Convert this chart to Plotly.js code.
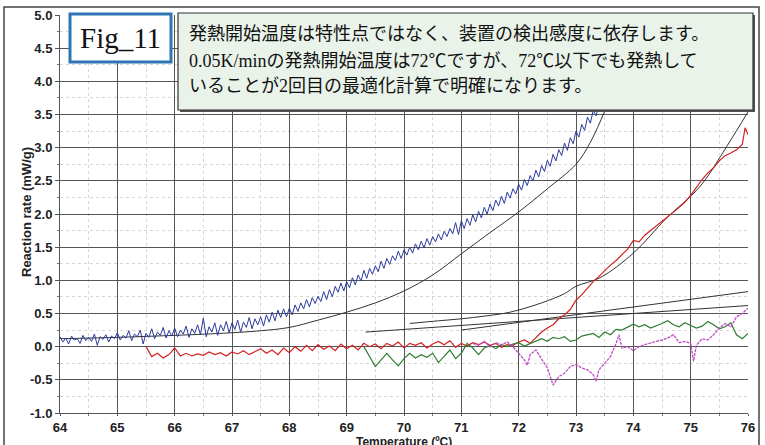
<!DOCTYPE html>
<html>
<head>
<meta charset="utf-8">
<script src="https://cdn.plot.ly/plotly-3.0.1.min.js"></script>
<style>html,body{margin:0;padding:0;background:#fff;}#chart{width:765px;height:445px;}</style>
</head>
<body>
<div id="chart"></div>
<script>
// ---- data ----
const blueT = [64.00,64.05,64.10,64.15,64.20,64.25,64.30,64.35,64.40,64.45,64.50,64.55,64.60,64.65,64.70,64.75,64.80,64.85,64.90,64.95,
65.00,65.05,65.10,65.15,65.20,65.25,65.30,65.35,65.40,65.45,65.50,65.55,65.60,65.65,65.70,65.75,65.80,65.85,65.90,65.95,
66.00,66.05,66.10,66.15,66.20,66.25,66.30,66.35,66.40,66.45,66.50,66.55,66.60,66.65,66.70,66.75,66.80,66.85,66.90,66.95,
67.00,67.05,67.10,67.15,67.20,67.25,67.30,67.35,67.40,67.45,67.50,67.55,67.60,67.65,67.70,67.75,67.80,67.85,67.90,67.95,
68.00,68.05,68.10,68.15,68.20,68.25,68.30,68.35,68.40,68.45,68.50,68.55,68.60,68.65,68.70,68.75,68.80,68.85,68.90,68.95,
69.00,69.05,69.10,69.15,69.20,69.25,69.30,69.35,69.40,69.45,69.50,69.55,69.60,69.65,69.70,69.75,69.80,69.85,69.90,69.95,
70.00,70.05,70.10,70.15,70.20,70.25,70.30,70.35,70.40,70.45,70.50,70.55,70.60,70.65,70.70,70.75,70.80,70.85,70.90,70.95,
71.00,71.05,71.10,71.15,71.20,71.25,71.30,71.35,71.40,71.45,71.50,71.55,71.60,71.65,71.70,71.75,71.80,71.85,71.90,71.95,
72.00,72.05,72.10,72.15,72.20,72.25,72.30,72.35,72.40,72.45,72.50,72.55,72.60,72.65,72.70,72.75,72.80,72.85,72.90,72.95,
73.00,73.05,73.10,73.15,73.20,73.25,73.30,73.35,73.40,73.45,73.50];
const blueV = [0.15,0.07,0.13,0.04,0.16,0.10,0.12,0.05,0.17,0.09,0.14,0.08,0.19,0.02,0.15,0.11,0.18,0.07,0.16,0.12,
0.21,0.10,0.17,0.13,0.24,0.09,0.19,0.15,0.25,0.04,0.20,0.14,0.27,0.12,0.22,0.17,0.29,0.13,0.24,0.16,
0.28,0.15,0.25,0.19,0.31,0.14,0.27,0.20,0.33,0.18,0.43,0.15,0.30,0.22,0.36,0.17,0.33,0.24,0.38,0.21,
0.36,0.26,0.40,0.22,0.37,0.29,0.44,0.27,0.42,0.33,0.45,0.31,0.48,0.37,0.52,0.39,0.55,0.44,0.57,0.45,
0.58,0.48,0.63,0.53,0.66,0.57,0.71,0.60,0.74,0.65,0.76,0.68,0.83,0.71,0.86,0.75,0.91,0.82,0.96,0.84,
0.98,0.89,1.04,0.93,1.08,0.99,1.15,1.03,1.18,1.09,1.22,1.13,1.29,1.18,1.33,1.24,1.37,1.30,1.44,1.33,
1.46,1.38,1.50,1.41,1.55,1.46,1.59,1.49,1.63,1.53,1.66,1.58,1.70,1.61,1.74,1.66,1.78,1.70,1.87,1.69,
1.90,1.78,1.93,1.83,1.99,1.88,2.04,1.94,2.10,2.00,2.15,2.05,2.21,2.12,2.27,2.16,2.33,2.24,2.38,2.30,
2.45,2.36,2.52,2.43,2.58,2.50,2.66,2.56,2.73,2.64,2.81,2.72,2.90,2.80,2.97,2.88,3.07,2.96,3.15,3.06,
3.25,3.16,3.35,3.26,3.46,3.37,3.56,3.48,3.66,3.58,3.72];

const fitBlueT = [64,65,66,67,67.5,68,68.5,69,69.5,70,70.5,71,71.5,72,72.5,73,73.25,73.55];
const fitBlueV = [0.12,0.14,0.17,0.21,0.24,0.29,0.40,0.52,0.66,0.84,1.08,1.40,1.72,2.03,2.38,2.75,3.08,3.65];

const redT = [65.5,65.6,65.7,65.8,65.9,66.0,66.1,66.2,66.3,66.4,66.5,66.6,66.7,66.8,66.9,67.0,67.1,67.2,67.3,67.4,67.5,67.6,67.7,67.8,67.9,68.0,68.1,68.2,68.3,68.4,68.5,68.6,68.7,68.8,68.9,69.0,69.1,69.2,69.3,69.4,69.5,69.6,69.7,69.8,69.9,70.0,70.1,70.2,70.3,70.4,70.5,70.6,70.7,70.8,70.9,71.0,71.1,71.2,71.3,71.4,71.5,71.6,71.7,71.8,71.9,72.0,72.1,72.2,72.3,72.4,72.5,72.6,72.7,72.8,72.9,73.0,73.1,73.2,73.3,73.4,73.5,73.6,73.7,73.8,73.9,74.0,74.1,74.2,74.3,74.4,74.5,74.6,74.7,74.8,74.9,75.0,75.1,75.2,75.3,75.4,75.5,75.6,75.7,75.8,75.9,75.95,76.0];
const redV = [0.00,-0.15,-0.10,-0.17,-0.12,-0.02,-0.14,-0.10,-0.14,-0.11,-0.13,-0.08,-0.12,-0.09,-0.14,-0.08,-0.11,-0.06,-0.12,-0.07,-0.03,-0.10,-0.05,-0.12,-0.02,-0.09,0.00,-0.07,0.02,-0.06,0.03,-0.04,0.01,-0.06,0.04,-0.03,0.02,-0.05,0.05,0.00,0.04,-0.03,0.05,0.01,0.07,-0.02,0.05,0.02,0.06,-0.02,0.04,0.08,0.03,0.09,-0.01,0.05,0.01,0.06,0.03,0.07,0.02,0.05,-0.01,0.03,0.02,0.07,0.10,0.05,0.14,0.22,0.28,0.33,0.42,0.48,0.56,0.70,0.78,0.88,0.98,1.06,1.15,1.23,1.30,1.38,1.47,1.60,1.58,1.68,1.75,1.82,1.88,1.96,2.02,2.10,2.18,2.28,2.40,2.52,2.62,2.70,2.80,2.88,2.92,2.97,3.05,3.30,3.20];

const fitRedT = [70.1,70.6,71.0,71.4,71.85,72.4,72.8,73.0,73.42,74.0,74.58,75.16,75.63,76.0];
const fitRedV = [0.35,0.39,0.42,0.46,0.52,0.66,0.80,0.91,1.04,1.41,1.94,2.41,3.02,3.54];

const lineAT = [69.33,76.0];
const lineAV = [0.22,0.62];
const lineBT = [71.0,76.0];
const lineBV = [0.25,0.83];

const greenT = [69.3,69.4,69.5,69.6,69.7,69.8,69.9,70.0,70.1,70.2,70.3,70.4,70.5,70.6,70.7,70.8,70.9,71.0,71.1,71.2,71.3,71.4,71.5,71.6,71.7,71.8,71.9,72.0,72.1,72.2,72.3,72.4,72.5,72.6,72.7,72.8,72.9,73.0,73.1,73.2,73.3,73.4,73.5,73.6,73.7,73.8,73.9,74.0,74.1,74.2,74.3,74.4,74.5,74.6,74.7,74.8,74.9,75.0,75.1,75.2,75.3,75.4,75.5,75.6,75.7,75.8,75.9,76.0];
const greenV = [0.00,-0.15,-0.30,-0.20,-0.10,-0.20,-0.29,-0.18,-0.10,-0.17,-0.12,-0.16,-0.10,-0.24,-0.14,-0.05,-0.18,-0.10,0.05,-0.02,-0.12,-0.02,0.02,-0.03,0.03,0.00,0.04,0.06,0.01,0.05,0.08,0.12,0.08,0.14,0.12,0.15,0.08,0.10,0.16,0.18,0.20,0.14,0.22,0.18,0.26,0.25,0.30,0.34,0.30,0.33,0.28,0.31,0.35,0.39,0.33,0.30,0.36,0.32,0.28,0.31,0.38,0.33,0.27,0.30,0.36,0.18,0.12,0.20];

const pinkT = [71.2,71.3,71.4,71.5,71.6,71.7,71.8,71.9,72.0,72.1,72.15,72.2,72.3,72.4,72.5,72.6,72.7,72.8,72.9,73.0,73.1,73.2,73.3,73.35,73.4,73.5,73.6,73.7,73.75,73.8,73.9,74.0,74.1,74.2,74.3,74.4,74.5,74.6,74.7,74.8,74.9,75.0,75.05,75.1,75.2,75.3,75.4,75.5,75.6,75.7,75.8,75.9,76.0];
const pinkV = [0.05,0.02,0.08,0.00,0.06,0.03,0.07,0.00,-0.10,-0.20,-0.28,-0.12,-0.05,-0.18,-0.32,-0.58,-0.45,-0.40,-0.30,-0.27,-0.32,-0.35,-0.42,-0.52,-0.35,-0.25,-0.15,0.05,0.18,-0.02,0.00,-0.06,0.00,0.03,0.06,0.08,0.10,0.13,0.18,0.06,0.08,0.05,-0.22,0.02,0.12,0.10,0.18,0.28,0.35,0.30,0.45,0.50,0.58];

const xTicks = [64,65,66,67,68,69,70,71,72,73,74,75,76];
const yTicks = [-1.0,-0.5,0.0,0.5,1.0,1.5,2.0,2.5,3.0,3.5,4.0,4.5,5.0];
const xTitle = 'Temperature (ºC)';
const yTitle = 'Reaction rate (mW/g)';
const figLabel = 'Fig_11';
const noteLines = [
  '発熱開始温度は特性点ではなく、装置の検出感度に依存します。',
  '0.05K/minの発熱開始温度は72℃ですが、72℃以下でも発熱して',
  'いることが2回目の最適化計算で明確になります。'
];

// ---- geometry helpers (plot area: x 60..748 px, y 15..413 px) ----
const L = 60, R = 748, T = 15, B = 413;
const px = v => (v - L) / (R - L);
const py = v => (B - v) / (B - T);

const traces = [
  {x: fitBlueT, y: fitBlueV, mode: 'lines', line: {color: '#333', width: 1, shape: 'spline'}},
  {x: lineAT, y: lineAV, mode: 'lines', line: {color: '#333', width: 1}},
  {x: lineBT, y: lineBV, mode: 'lines', line: {color: '#333', width: 1}},
  {x: fitRedT, y: fitRedV, mode: 'lines', line: {color: '#333', width: 1, shape: 'spline'}},
  {x: blueT, y: blueV, mode: 'lines', line: {color: '#2b3b9e', width: 1}},
  {x: redT, y: redV, mode: 'lines', line: {color: '#d42020', width: 1.2}},
  {x: greenT, y: greenV, mode: 'lines', line: {color: '#2e7d32', width: 1.2}},
  {x: pinkT, y: pinkV, mode: 'lines', line: {color: '#c04cc4', width: 1.3, dash: '3px,1px'}}
];

const tickFont = {family: 'Liberation Sans, Arial', size: 13, color: '#222', weight: 'bold'};
const layout = {
  width: 765, height: 445,
  margin: {l: L, r: 765 - R, t: T, b: 445 - B},
  paper_bgcolor: '#fff', plot_bgcolor: '#fff',
  showlegend: false,
  xaxis: {
    range: [64, 76], tickvals: xTicks, ticktext: xTicks.map(String),
    showgrid: true, gridcolor: '#555', gridwidth: 1,
    ticks: 'outside', ticklen: 2, tickcolor: '#555',
    tickfont: tickFont, zeroline: false, showline: true, linecolor: '#555',
    minor: {dtick: 0.5, showgrid: true, gridcolor: '#d6d6d6', griddash: 'dot', ticks: 'outside', ticklen: 2, tickcolor: '#777'}
  },
  yaxis: {
    range: [-1, 5], tickvals: yTicks, ticktext: yTicks.map(v => v.toFixed(1)),
    showgrid: true, gridcolor: '#555', gridwidth: 1,
    ticks: 'outside', ticklen: 4, tickcolor: '#555',
    tickfont: tickFont, zeroline: false, showline: true, linecolor: '#555',
    minor: {dtick: 0.25, showgrid: true, gridcolor: '#d6d6d6', griddash: 'dot', ticks: 'outside', ticklen: 2, tickcolor: '#777'}
  },
  shapes: [
    {type: 'rect', xref: 'paper', yref: 'paper', x0: px(4), x1: px(759), y0: py(460), y1: py(7), line: {color: '#444', width: 1.5}, fillcolor: 'rgba(0,0,0,0)', layer: 'above'},
    {type: 'rect', xref: 'paper', yref: 'paper', x0: px(70), x1: px(171), y0: py(62), y1: py(14), line: {color: '#2e75b6', width: 3}, fillcolor: '#ffffff', layer: 'above'},
    {type: 'rect', xref: 'paper', yref: 'paper', x0: px(180), x1: px(755), y0: py(112), y1: py(15), line: {width: 0}, fillcolor: '#555', layer: 'above'},
    {type: 'rect', xref: 'paper', yref: 'paper', x0: px(178), x1: px(753), y0: py(110), y1: py(13), line: {color: '#333', width: 1.2}, fillcolor: '#eaf3ea', layer: 'above'}
  ],
  annotations: [
    {xref: 'paper', yref: 'paper', x: px(120), y: py(38), text: figLabel, showarrow: false, xanchor: 'center', yanchor: 'middle', font: {family: 'Liberation Serif, Times New Roman', size: 29, color: '#111'}},
    {xref: 'paper', yref: 'paper', x: px(187), y: py(34), text: noteLines[0], showarrow: false, xanchor: 'left', yanchor: 'middle', font: {family: 'Liberation Serif, Noto Sans CJK JP', size: 18, color: '#111'}},
    {xref: 'paper', yref: 'paper', x: px(187), y: py(61), text: noteLines[1], showarrow: false, xanchor: 'left', yanchor: 'middle', font: {family: 'Liberation Serif, Noto Sans CJK JP', size: 18, color: '#111'}},
    {xref: 'paper', yref: 'paper', x: px(187), y: py(86), text: noteLines[2], showarrow: false, xanchor: 'left', yanchor: 'middle', font: {family: 'Liberation Serif, Noto Sans CJK JP', size: 18, color: '#111'}},
    {xref: 'paper', yref: 'paper', x: px(26), y: py(212), text: yTitle, textangle: -90, showarrow: false, xanchor: 'center', yanchor: 'middle', font: {family: 'Liberation Sans, Arial', size: 13, color: '#222', weight: 'bold'}},
    {xref: 'paper', yref: 'paper', x: px(404), y: py(442), text: xTitle, showarrow: false, xanchor: 'center', yanchor: 'middle', font: {family: 'Liberation Sans, Arial', size: 12, color: '#222', weight: 'bold'}}
  ]
};

Plotly.newPlot('chart', traces, layout, {staticPlot: true, displayModeBar: false});
</script>
</body>
</html>
